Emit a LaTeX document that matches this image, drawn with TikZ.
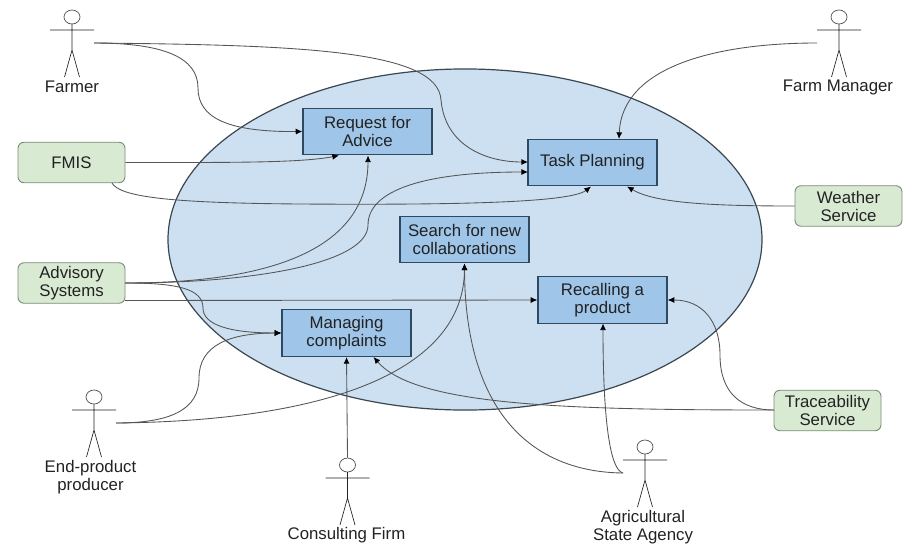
\documentclass[tikz,border=0pt]{standalone}
\usepackage{fontspec}
\setmainfont{Liberation Sans}
\usetikzlibrary{shapes.geometric,arrows.meta}
\definecolor{ellfill}{HTML}{CDE0F2}
\definecolor{ellline}{HTML}{3A4650}
\definecolor{boxfill}{HTML}{9FC5E8}
\definecolor{boxline}{HTML}{2E4A63}
\definecolor{grnfill}{HTML}{D9EAD3}
\definecolor{grnline}{HTML}{7C8C78}
\definecolor{ink}{HTML}{222222}
\definecolor{conn}{HTML}{555555}
\tikzset{
  x=0.75pt,y=-0.75pt,
  every node/.style={text=ink,font=\fontsize{12.6}{13.5}\selectfont,align=center,inner sep=0pt},
  usecase/.style={draw=boxline,fill=boxfill,line width=0.9pt,minimum width=96.75pt,minimum height=35pt},
  system/.style={draw=grnline,fill=grnfill,line width=0.7pt,rounded corners=4.5pt,minimum width=80.25pt,minimum height=30.4pt},
  head/.style={draw=conn,ellipse,line width=0.55pt,minimum width=12pt,minimum height=10.5pt},
  stick/.style={draw=ink,line width=0.5pt},
  link/.style={draw=conn,line width=0.65pt,-{Latex[length=5pt,width=4.5pt,color=black]}},
}
\newcommand{\actorfig}[3]{%
  \begin{scope}[shift={(#2,#3)}]
    \node[head] (#1) at (0,0) {};
    \draw[stick] (0,7) -- (0,33) (-22,13) -- (22,13) (-7.5,60) -- (0,33) -- (7.5,60);
    \coordinate (#1R) at (22,26);
    \coordinate (#1L) at (-22,26);
  \end{scope}}
\begin{document}
\begin{tikzpicture}
\useasboundingbox (0,0) rectangle (905,543);
\node[ellipse,draw=ellline,fill=ellfill,line width=0.9pt,minimum width=445.5pt,minimum height=255.8pt] (boundary) at (465,239.5) {};

\node[usecase] (req) at (367.5,131.5) {Request for\\Advice};
\node[usecase] (task) at (592.5,162.5) {Task Planning};
\node[usecase] (search) at (464.5,239.5) {Search for new\\collaborations};
\node[usecase] (recall) at (602.5,300) {Recalling a\\product};
\node[usecase] (manage) at (346.5,333) {Managing\\complaints};

\node[system] (fmis) at (71.5,162.5) {FMIS};
\node[system] (adv) at (71.5,283) {Advisory\\Systems};
\node[system] (weather) at (848.5,206) {Weather\\Service};
\node[system] (trace) at (827.5,410.5) {Traceability\\Service};

\actorfig{farmer}{72}{17}
\actorfig{manager}{839}{17}
\actorfig{endprod}{94}{397}
\actorfig{consult}{347.5}{465}
\actorfig{agri}{645}{447}

\node (farmerlab) at (72,87) {Farmer};
\node (managerlab) at (838,87) {Farm Manager};
\node (endprodlab) at (90.5,477) {End-product\\producer};
\node (consultlab) at (346.5,535) {Consulting Firm};
\node (agrilab) at (643,527) {Agricultural\\State Agency};

% ports
\coordinate (reqS1) at (339,155.5);
\coordinate (reqS2) at (368,155.5);
\coordinate (taskW1) at (528,162);
\coordinate (taskW2) at (528,172);
\coordinate (taskS1) at (591,186.5);
\coordinate (taskS2) at (627,186.5);
\coordinate (taskN) at (619,139);
\coordinate (manS1) at (346.5,357);
\coordinate (manS2) at (373.5,357);
\coordinate (recS) at (603,323.5);
\coordinate (advE1) at (125,283);
\coordinate (advE2) at (125,300.5);
\coordinate (fmisS) at (112,183);
\coordinate (traceW) at (774,410);
\coordinate (searchS) at (464.5,263.5);

\draw[link] (farmerR) .. controls (165,43) and (198,58) .. (198,88) .. controls (198,118) and (228,132) .. (req.west);
\draw[link] (farmerR) .. controls (300,45) and (438,50) .. (441,100) .. controls (445,145) and (485,162) .. (taskW1);
\draw[link] (fmis.east) .. controls (230,162.5) and (300,163) .. (reqS1);
\draw[link] (fmisS) .. controls (120,197) and (170,203) .. (300,204) .. controls (450,205) and (570,203) .. (taskS1);
\draw[link] (advE1) .. controls (290,283) and (368,240) .. (reqS2);
\draw[link] (advE1) .. controls (260,283) and (368,262) .. (368,225) .. controls (368,190) and (425,172) .. (taskW2);
\draw[link] (advE1) .. controls (175,283) and (203,288) .. (203,308) .. controls (203,325) and (230,333) .. (manage.west);
\draw[link] (advE2) -- (recall.west);
\draw[link] (endprodR) .. controls (170,423) and (199,410) .. (199,378) .. controls (199,345) and (230,333) .. (manage.west);
\draw[link] (endprodR) .. controls (330,421) and (464,370) .. (searchS);
\draw[link] (consult.north) -- (manS1);
\draw[link] (traceW) .. controls (560,410) and (415,405) .. (manS2);
\draw[link] (traceW) .. controls (740,410) and (720,392) .. (720,355) .. controls (720,322) and (703,300) .. (recall.east);
\draw[link] (agriL) .. controls (610,470) and (603,420) .. (recS);
\draw[link] (agriL) .. controls (530,472) and (465,410) .. (searchS);
\draw[link] (managerL) .. controls (720,43) and (622,65) .. (taskN);
\draw[link] (weather.west) .. controls (710,206) and (655,203) .. (taskS2);
\end{tikzpicture}
\end{document}
